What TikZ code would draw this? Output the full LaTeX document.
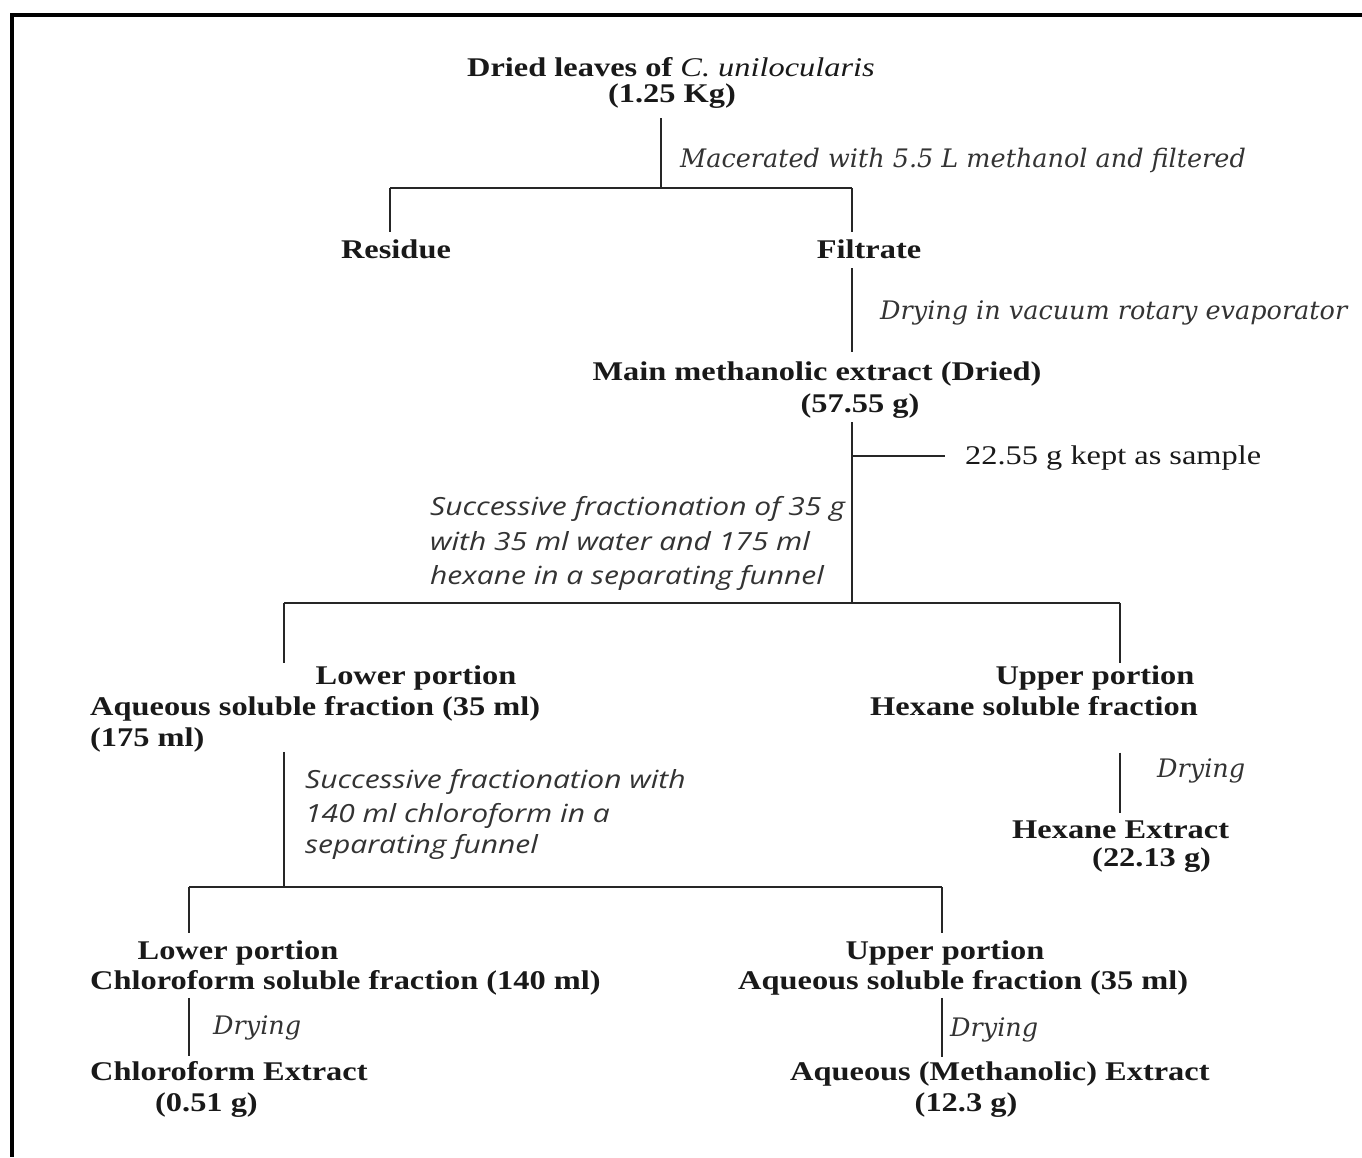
\documentclass[tikz,border=0pt]{standalone}
\usepackage{fontspec}
\setmainfont{Liberation Serif}[FakeStretch=1.2]
\newfontfamily\serifit{DejaVu Serif}
\newfontfamily\sansit{Open Sans}[FakeStretch=1.2]
\usetikzlibrary{calc}
\begin{document}
\begin{tikzpicture}[x=1pt,y=-1pt,
  bt/.style={inner sep=0pt,font=\fontsize{27}{30}\selectfont\bfseries,text=black!90},
  rt/.style={inner sep=0pt,font=\fontsize{27}{30}\selectfont,text=black!90},
  st/.style={inner sep=0pt,font=\fontsize{25.5}{30}\selectfont\serifit\itshape,text=black!80},
  ct/.style={inner sep=0pt,font=\fontsize{25}{30}\selectfont\sansit\itshape,text=black!80},
  ln/.style={line width=1.6pt,black!85}]
\useasboundingbox (0,0) rectangle (1362,1157);
\draw[line width=4pt] (1362,15) -- (12,15) -- (12,1157);
% nodes
\node[bt,anchor=base] (top1) at (671,76) {Dried leaves of {\mdseries\itshape C. unilocularis}};
\node[bt,anchor=base] (top2) at (672,102) {(1.25 Kg)};
\node[st,anchor=base west] (mac) at (680,167) {Macerated with 5.5 L methanol and filtered};
\node[bt,anchor=base] (res) at (396,258) {Residue};
\node[bt,anchor=base] (fil) at (869,258) {Filtrate};
\node[st,anchor=base west] (dry1) at (880,319) {Drying in vacuum rotary evaporator};
\node[bt,anchor=base] (main1) at (817,380) {Main methanolic extract (Dried)};
\node[bt,anchor=base] (main2) at (860,412) {(57.55 g)};
\node[rt,anchor=base west] (samp) at (965,464) {22.55 g kept as sample};
\node[ct,anchor=base west] (sa1) at (430,515) {Successive fractionation of 35 g};
\node[ct,anchor=base west] (sa2) at (430,550) {with 35 ml water and 175 ml};
\node[ct,anchor=base west] (sa3) at (430,584) {hexane in a separating funnel};
\node[bt,anchor=base] (lp1) at (416,684) {Lower portion};
\node[bt,anchor=base west] (aq1) at (90,715) {Aqueous soluble fraction (35 ml)};
\node[bt,anchor=base west] (aq2) at (90,746) {(175 ml)};
\node[bt,anchor=base] (up1) at (1095,684) {Upper portion};
\node[bt,anchor=base west] (hx1) at (870,715) {Hexane soluble fraction};
\node[ct,anchor=base west] (sb1) at (305,788) {Successive fractionation with};
\node[ct,anchor=base west] (sb2) at (305,822) {140 ml chloroform in a};
\node[ct,anchor=base west] (sb3) at (305,853) {separating funnel};
\node[st,anchor=base west] (dry2) at (1157,777) {Drying};
\node[bt,anchor=base west] (hxe1) at (1012,838) {Hexane Extract};
\node[bt,anchor=base west] (hxe2) at (1092,866) {(22.13 g)};
\node[bt,anchor=base] (lp2) at (238,959) {Lower portion};
\node[bt,anchor=base west] (cf1) at (90,989) {Chloroform soluble fraction (140 ml)};
\node[st,anchor=base west] (dry3) at (213,1034) {Drying};
\node[bt,anchor=base west] (cfe1) at (90,1080) {Chloroform Extract};
\node[bt,anchor=base west] (cfe2) at (155,1111) {(0.51 g)};
\node[bt,anchor=base] (up2) at (945,959) {Upper portion};
\node[bt,anchor=base west] (aq3) at (738,989) {Aqueous soluble fraction (35 ml)};
\node[st,anchor=base west] (dry4) at (950,1036) {Drying};
\node[bt,anchor=base west] (aqe1) at (790,1080) {Aqueous (Methanolic) Extract};
\node[bt,anchor=base] (aqe2) at (966,1111) {(12.3 g)};
% junctions
\coordinate (j1) at (661,188);
\coordinate (jr) at (390,188);
\coordinate (jf) at (852,188);
\coordinate (js) at (852,456);
\coordinate (j2) at (852,603);
\coordinate (jl) at (284,603);
\coordinate (jh) at (1120,603);
\coordinate (j3) at (284,887);
\coordinate (jc) at (189,887);
\coordinate (ja) at (942,887);
% connectors
\draw[ln,shorten <=10pt] (top2.south -| j1) -- (j1);
\draw[ln] (jr) -- (jf);
\draw[ln,shorten >=7.5pt] (jr) -- (jr |- res.north);
\draw[ln,shorten >=7.5pt] (jf) -- (jf |- fil.north);
\draw[ln,shorten <=10pt,shorten >=9pt] (fil.south -| jf) -- (main1.north -| jf);
\draw[ln,shorten <=4pt] (main2.south -| j2) -- (j2);
\draw[ln,shorten >=20pt] (js) -- (js -| samp.west);
\draw[ln] (jl) -- (jh);
\draw[ln,shorten >=2.5pt] (jl) -- (jl |- lp1.north);
\draw[ln,shorten >=2.5pt] (jh) -- (jh |- up1.north);
\draw[ln] (aq2.south -| j3) -- (j3);
\draw[ln,shorten <=37pt,shorten >=7pt] (hx1.south -| jh) -- (hxe1.north -| jh);
\draw[ln] (jc) -- (ja);
\draw[ln,shorten >=7.5pt] (jc) -- (jc |- lp2.north);
\draw[ln,shorten >=7.5pt] (ja) -- (ja |- up2.north);
\draw[ln,shorten <=3pt,shorten >=4.5pt] (cf1.south -| jc) -- (cfe1.north -| jc);
\draw[ln,shorten <=3pt,shorten >=4.5pt] (aq3.south -| ja) -- (aqe1.north -| ja);
\end{tikzpicture}
\end{document}
